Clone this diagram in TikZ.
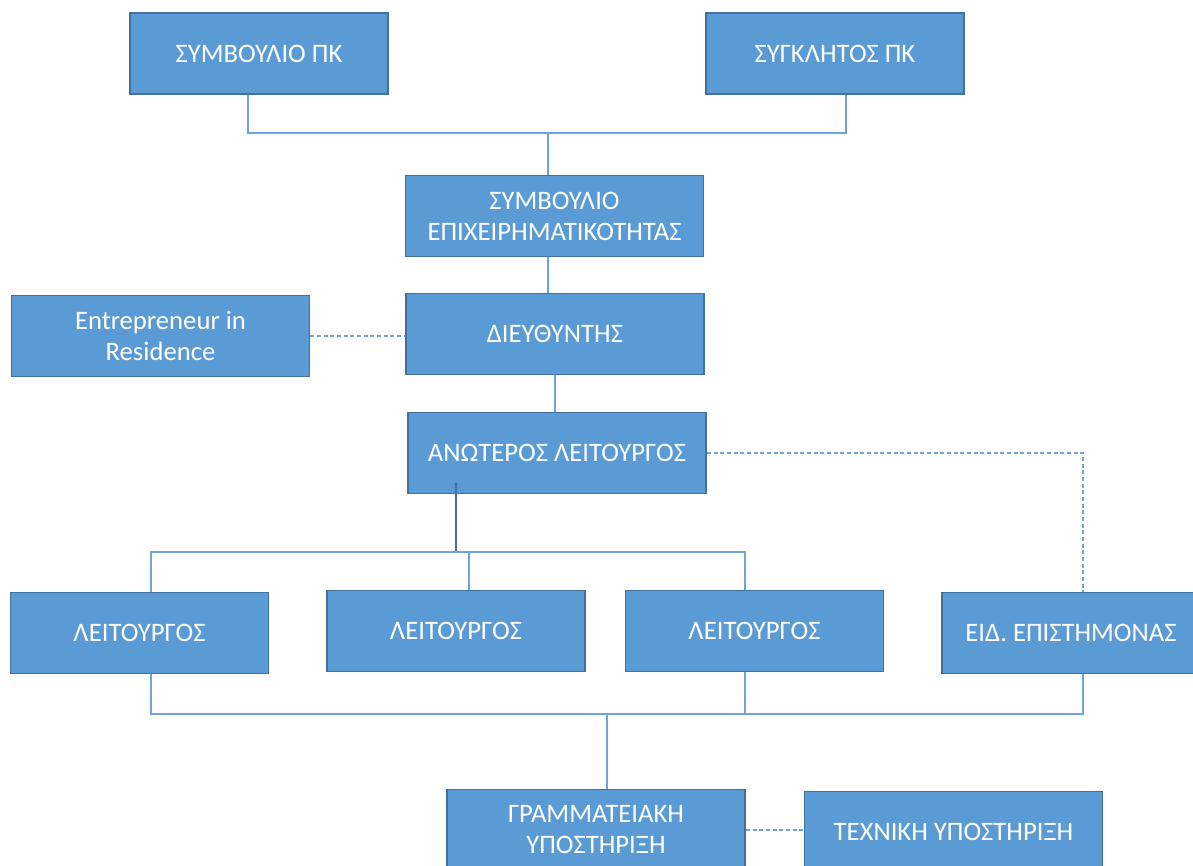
\documentclass[tikz,border=0pt]{standalone}
\usepackage{fontspec}
\setmainfont{Carlito}
\usepackage{tikz}
\usetikzlibrary{calc}

\definecolor{boxfill}{HTML}{5B9BD5}
\definecolor{boxedge}{HTML}{41719C}
\definecolor{linkblue}{HTML}{6FA3DA}

\begin{document}
\begin{tikzpicture}[x=0.75pt, y=-0.75pt,
        orgbox/.style = {shape=rectangle, draw=boxedge, fill=boxfill,
                         line width=1.4pt, text=white, align=center,
                         minimum width=193.5pt, minimum height=60.75pt,
                         inner sep=2pt, font=\fontsize{20}{23.25}\selectfont},
        wide/.style = {minimum width=223.5pt},
        link/.style = {draw=linkblue, line width=0.9pt},
        stem/.style = {draw=boxedge, line width=1.5pt},
        dashlink/.style = {draw=linkblue, line width=0.9pt, dash pattern=on 3pt off 2pt}]
    \useasboundingbox (0,0) rectangle (1193,866);

    % boards
    \node[orgbox] (spk) at (259,53.5) {ΣΥΜΒΟΥΛΙΟ ΠΚ};
    \node[orgbox] (sgk) at (835,53.5) {ΣΥΓΚΛΗΤΟΣ ΠΚ};
    \node[orgbox, wide] (sep) at (554.5,216) {ΣΥΜΒΟΥΛΙΟ\\ ΕΠΙΧΕΙΡΗΜΑΤΙΚΟΤΗΤΑΣ};
    \node[orgbox, wide] (dir) at (555,334) {ΔΙΕΥΘΥΝΤΗΣ};
    \node[orgbox, wide] (eir) at (160.5,336) {Entrepreneur in\\ Residence};
    \node[orgbox, wide] (anl) at (557,453) {ΑΝΩΤΕΡΟΣ ΛΕΙΤΟΥΡΓΟΣ};

    % staff
    \node[orgbox] (lt1) at (139.5,633) {ΛΕΙΤΟΥΡΓΟΣ};
    \node[orgbox] (lt2) at (456,631) {ΛΕΙΤΟΥΡΓΟΣ};
    \node[orgbox] (lt3) at (754.5,631) {ΛΕΙΤΟΥΡΓΟΣ};
    \node[orgbox] (eid) at (1071,633) {ΕΙΔ. ΕΠΙΣΤΗΜΟΝΑΣ};
    \node[orgbox, wide] (gra) at (596,830) {ΓΡΑΜΜΑΤΕΙΑΚΗ\\ ΥΠΟΣΤΗΡΙΞΗ};
    \node[orgbox, wide] (tex) at (953.5,832) {ΤΕΧΝΙΚΗ ΥΠΟΣΤΗΡΙΞΗ};

    % junctions
    \coordinate (top) at (548,133);
    \coordinate (mid) at (456,552);
    \coordinate (low) at (607,714);
    \coordinate (u1) at ($(lt1.north)+(11.5,0)$);
    \coordinate (u2) at ($(lt2.north)+(13,0)$);
    \coordinate (u3) at ($(lt3.north)+(-9.5,0)$);
    \coordinate (d3) at ($(lt3.south)+(-9.5,0)$);

    % connectors
    \draw[link] ($(spk.south)+(-11,0)$) |- (top) -| ($(sgk.south)+(11,0)$);
    \draw[link] (top) -- (top |- sep.north);
    \draw[link] (sep.south -| top) -- (dir.north -| top);
    \draw[link] (dir.south) -- (dir.south |- anl.north);
    \draw[dashlink] (eir.east) -- (eir.east -| dir.west);
    \draw[dashlink] (anl.east) -| ($(eid.north)+(12,0)$);
    \draw[stem] ($(anl.south -| mid)+(0,-11)$) -- (mid);
    \draw[link] (u1) |- (mid) -| (u3);
    \draw[link] (u2) -- (u2 |- mid);
    \draw[link] ($(lt1.south)+(11.5,0)$) |- (low) -| ($(eid.south)+(12,0)$);
    \draw[link] (d3) -- (d3 |- low);
    \draw[link] (low) -- (low |- gra.north);
    \draw[dashlink] (gra.east) -- (gra.east -| tex.west);
\end{tikzpicture}
\end{document}
